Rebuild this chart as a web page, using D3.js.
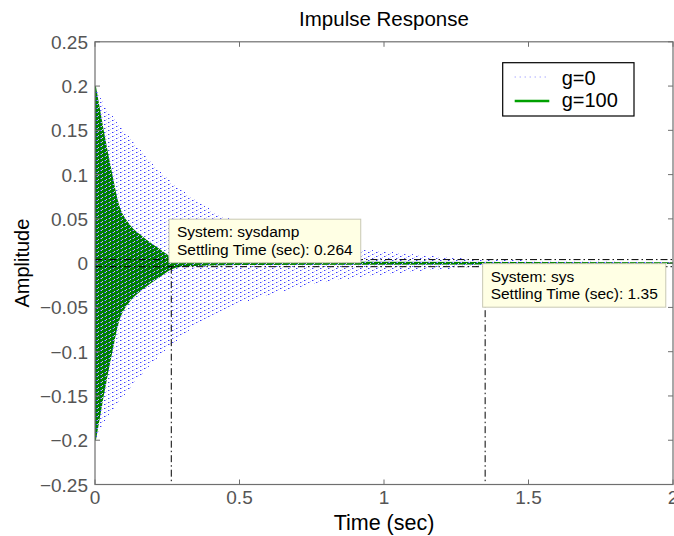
<!DOCTYPE html>
<html>
<head>
<meta charset="utf-8">
<script src="https://cdn.jsdelivr.net/npm/d3@7"></script>
<style>
  html, body { margin: 0; padding: 0; background: #fff; }
  svg { display: block; font-family: "Liberation Sans", Arial, Helvetica, sans-serif; }
</style>
</head>
<body>
<svg id="chart" width="674" height="536"></svg>
<script>
// Envelope of the impulse response of the undamped system (g=0)
const tSys = [0, 0.017, 0.1, 0.2, 0.33, 0.45, 0.6, 0.8, 1.0, 1.2, 1.35, 1.6, 2.0];
const envSys = [0.2, 0.188, 0.15, 0.112, 0.075, 0.052, 0.036, 0.021, 0.013, 0.007, 0.004, 0.0025, 0.0015];

// Envelope of the impulse response of the damped system (g=100)
const tDamp = [0, 0.027, 0.06, 0.075, 0.12, 0.156, 0.2, 0.224, 0.257, 0.3, 0.5, 2.0];
const envDamp = [0.2, 0.15, 0.095, 0.072, 0.042, 0.031, 0.02, 0.0147, 0.007, 0.003, 0.001, 0];

// Settling-time characteristics
const systemNames = ["sysdamp", "sys"];
const settleTimes = [0.264, 1.35];
const settleLevel = -0.004;
const bandLevels = [0.004, -0.004];

const legendLabels = ["g=0", "g=100"];
const xTicks = [0, 0.5, 1, 1.5, 2];
const xTickLabels = ["0", "0.5", "1", "1.5", "2"];
const yTicks = [0.25, 0.2, 0.15, 0.1, 0.05, 0, -0.05, -0.1, -0.15, -0.2, -0.25];
const yTickLabels = ["0.25", "0.2", "0.15", "0.1", "0.05", "0", "\u22120.05", "\u22120.1", "\u22120.15", "\u22120.2", "\u22120.25"];

const svg = d3.select("#chart");
const L = 95, R = 673, T = 41.8, B = 484.5;
const x = d3.scaleLinear().domain([0, 2]).range([L, R]);
const y = d3.scaleLinear().domain([-0.25, 0.25]).range([B, T]);

const defs = svg.append("defs");
// dense dotted oscillation texture for the g=0 trace
const pat = defs.append("pattern").attr("id", "osc").attr("patternUnits", "userSpaceOnUse")
  .attr("width", 8).attr("height", 4);
[[0,0,"#3535ff"],[1,0,"#a8a8ff"],[6,1,"#cdcdff"],[4,2,"#4545ff"],[5,2,"#b8b8ff"],[2,3,"#cdcdff"]]
  .forEach(([px, py, c]) => pat.append("rect").attr("x", px).attr("y", py).attr("width", 1).attr("height", 1).attr("fill", c));

defs.append("clipPath").attr("id", "plotclip").append("rect")
  .attr("x", L).attr("y", T).attr("width", R - L).attr("height", B - T);

const plot = svg.append("g").attr("clip-path", "url(#plotclip)");

const area = d3.area().x(d => x(d[0])).y0(d => y(-d[1])).y1(d => y(d[1])).curve(d3.curveMonotoneX);

// g=100 response (dense oscillation appears as a filled band)
plot.append("path").datum(d3.zip(tDamp, envDamp)).attr("d", area)
  .attr("fill", "#008000").attr("stroke", "#008000").attr("stroke-width", 1.8);

// g=0 response
plot.append("path").datum(d3.zip(tSys, envSys)).attr("d", area)
  .attr("fill", "url(#osc)").attr("shape-rendering", "crispEdges");

// settling markers: tolerance lines and vertical drop lines
const dash = "7,3,1.5,3";
plot.selectAll("line.band").data(bandLevels).join("line").attr("class", "band")
  .attr("x1", L).attr("x2", R).attr("y1", d => y(d)).attr("y2", d => y(d))
  .attr("stroke", "#000").attr("stroke-width", 1).attr("stroke-dasharray", dash);
plot.selectAll("line.drop").data(settleTimes).join("line").attr("class", "drop")
  .attr("x1", d => x(d)).attr("x2", d => x(d)).attr("y1", y(settleLevel)).attr("y2", B)
  .attr("stroke", "#000").attr("stroke-width", 1).attr("stroke-dasharray", dash);
plot.append("circle").attr("cx", x(settleTimes[1])).attr("cy", y(settleLevel)).attr("r", 1.8).attr("fill", "#0000ff");

// axes box and inward ticks
const axisColor = "#6f6f6f";
svg.append("rect").attr("x", L).attr("y", T).attr("width", R - L).attr("height", B - T)
  .attr("fill", "none").attr("stroke", axisColor).attr("stroke-width", 1.2);
const tk = 5;
xTicks.forEach(v => {
  svg.append("line").attr("x1", x(v)).attr("x2", x(v)).attr("y1", B).attr("y2", B - tk).attr("stroke", axisColor);
  svg.append("line").attr("x1", x(v)).attr("x2", x(v)).attr("y1", T).attr("y2", T + tk).attr("stroke", axisColor);
});
yTicks.forEach(v => {
  svg.append("line").attr("x1", L).attr("x2", L + tk).attr("y1", y(v)).attr("y2", y(v)).attr("stroke", axisColor);
  svg.append("line").attr("x1", R).attr("x2", R - tk).attr("y1", y(v)).attr("y2", y(v)).attr("stroke", axisColor);
});
svg.selectAll("text.xt").data(xTicks).join("text").attr("class", "xt")
  .attr("x", d => x(d)).attr("y", 504).attr("text-anchor", "middle")
  .attr("font-size", 19).attr("fill", "#555").text((d, i) => xTickLabels[i]);
svg.selectAll("text.yt").data(yTicks).join("text").attr("class", "yt")
  .attr("x", 88).attr("y", d => y(d) + 7).attr("text-anchor", "end")
  .attr("font-size", 19).attr("fill", "#555").text((d, i) => yTickLabels[i]);

// titles
svg.append("text").attr("x", (L + R) / 2).attr("y", 25.5).attr("text-anchor", "middle")
  .attr("font-size", 20.5).attr("fill", "#000").text("Impulse Response");
svg.append("text").attr("x", (L + R) / 2).attr("y", 530).attr("text-anchor", "middle")
  .attr("font-size", 21.5).attr("fill", "#000").text("Time (sec)");
svg.append("text").attr("transform", `translate(29,${(T + B) / 2}) rotate(-90)`).attr("text-anchor", "middle")
  .attr("font-size", 20).attr("fill", "#000").text("Amplitude");

// legend
const lg = svg.append("g");
lg.append("rect").attr("x", 502.7).attr("y", 62.7).attr("width", 131.3).attr("height", 53.3)
  .attr("fill", "#fff").attr("stroke", "#000").attr("stroke-width", 1.2);
lg.append("line").attr("x1", 514.7).attr("x2", 549.3).attr("y1", 77).attr("y2", 77)
  .attr("stroke", "#8080ff").attr("stroke-width", 1).attr("stroke-dasharray", "1,4");
lg.append("line").attr("x1", 514.7).attr("x2", 549.3).attr("y1", 101).attr("y2", 101)
  .attr("stroke", "#00a000").attr("stroke-width", 2.6);
lg.selectAll("text").data(legendLabels).join("text")
  .attr("x", 561.7).attr("y", (d, i) => 84.5 + i * 22.5).attr("font-size", 20).attr("fill", "#000").text(d => d);

// data tips
function tip(px, py, name, val, dx, dy) {
  const g = svg.append("g");
  const box = g.append("rect").attr("fill", "#ffffe4").attr("stroke", "#c8c8b4").attr("stroke-width", 1);
  const t1 = g.append("text").attr("x", px + dx + 8).attr("y", py + dy + 18).attr("font-size", 15.5).text("System: " + name);
  const t2 = g.append("text").attr("x", px + dx + 8).attr("y", py + dy + 35.8).attr("font-size", 15.5).text("Settling Time (sec): " + val);
  const w = Math.max(t1.node().getComputedTextLength(), t2.node().getComputedTextLength()) + 16;
  box.attr("x", px + dx).attr("y", py + dy).attr("width", w).attr("height", 43.5);
}
tip(x(settleTimes[0]), y(settleLevel), systemNames[0], "0.264", -2.3, -47.5);
tip(x(settleTimes[1]), y(settleLevel), systemNames[1], "1.35", -2.5, -3);
</script>
</body>
</html>
